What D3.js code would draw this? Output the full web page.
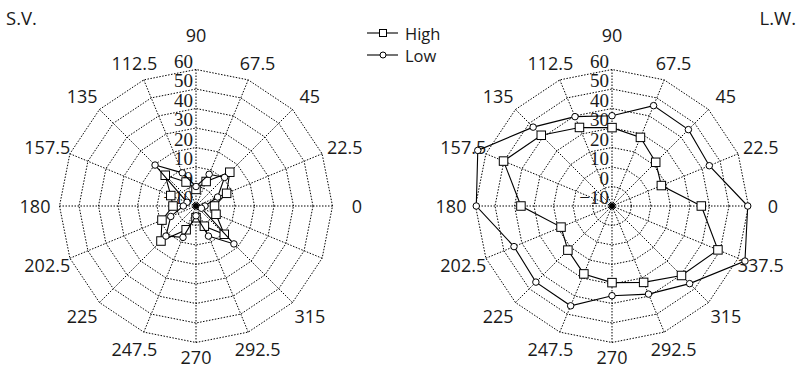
<!DOCTYPE html>
<html>
<head>
<meta charset="utf-8">
<script src="https://cdn.jsdelivr.net/npm/d3@7"></script>
<style>
  body { margin: 0; background: #fff; }
  svg { display: block; }
  .tick { font-family: "Liberation Serif", "DejaVu Serif", serif; }
  .sans { font-family: "Open Sans", "Liberation Sans", sans-serif; }
</style>
</head>
<body>
<svg id="chart" width="799" height="368"></svg>
<script>
// Wind-direction sectors (degrees, counter-clockwise from east)
const directions = [0, 22.5, 45, 67.5, 90, 112.5, 135, 157.5, 180, 202.5, 225, 247.5, 270, 292.5, 315, 337.5];
// Radial axis ticks
const radialTicks = [-10, 0, 10, 20, 30, 40, 50, 60];
const seriesNames = ["High", "Low"];

// S.V. panel
const svHigh = [-0.5, 7, 14.5, 3.6, -1.5, 3.3, 12.3, 4, 1.8, 8.9, 15.4, 3.2, -4, 1.2, 10.5, 1.1];
const svLow  = [-5.4, 2, 10.7, 7.6, 0, 8.4, 19.7, -5, -3.5, 4, 11.8, 7.4, -5, 6.7, 17.5, -7];

// L.W. panel
const lwHigh = [35.8, 17.4, 21.7, 28.1, 30.2, 33.6, 41.3, 50.2, 36.7, 18.3, 22, 27.7, 29.3, 32.4, 40.4, 48.8];
const lwLow  = [59.6, 44, 45.4, 45.7, 36.3, 39.6, 47.2, 64.5, 59.6, 44.4, 45.2, 45.4, 36, 38.9, 46.3, 63.8];

const svg = d3.select("#chart");
const rScale = d3.scaleLinear().domain([-10, 60]).range([0, 136.5]);

const polar = (deg, v) => {
  const a = deg * Math.PI / 180;
  const rr = rScale(v);
  return [rr * Math.cos(a), -rr * Math.sin(a)];
};

function drawMarker(sel, shape, size) {
  if (shape === "square") {
    sel.append("rect")
      .attr("x", -size / 2).attr("y", -size / 2)
      .attr("width", size).attr("height", size)
      .attr("fill", "#fff").attr("stroke", "#000").attr("stroke-width", 1);
  } else {
    sel.append("circle")
      .attr("r", size / 2)
      .attr("fill", "#fff").attr("stroke", "#000").attr("stroke-width", 1);
  }
}

function drawPanel(cx, cy, high, low, hiddenLabels) {
  const g = svg.append("g").attr("transform", `translate(${cx},${cy})`);
  const outer = radialTicks[radialTicks.length - 1];

  // dotted rings
  const ringLine = d3.line();
  radialTicks.filter(t => t > radialTicks[0]).forEach(t => {
    const pts = directions.map(d => polar(d, t));
    g.append("path")
      .attr("d", ringLine(pts) + "Z")
      .attr("fill", "none")
      .attr("stroke", "#000")
      .attr("stroke-width", 1)
      .attr("stroke-dasharray", "1.5,1.5");
  });

  // dotted spokes
  g.selectAll("line.spoke")
    .data(directions)
    .join("line")
    .attr("class", "spoke")
    .attr("x1", 0).attr("y1", 0)
    .attr("x2", d => polar(d, outer)[0])
    .attr("y2", d => polar(d, outer)[1])
    .attr("stroke", "#000")
    .attr("stroke-width", 1)
    .attr("stroke-dasharray", "1.5,1.5");

  g.append("circle").attr("r", 3).attr("fill", "#000");

  // radial tick labels along the 90° spoke
  g.selectAll("text.tick")
    .data(radialTicks)
    .join("text")
    .attr("class", "tick")
    .attr("x", -3)
    .attr("y", d => -rScale(d) - 2)
    .attr("text-anchor", "end")
    .attr("font-size", 19)
    .attr("fill", "#1a1a1a")
    .text(d => d < 0 ? "\u2212" + Math.abs(d) : d);

  // direction labels
  g.selectAll("text.dir")
    .data(directions.filter(d => !hiddenLabels.includes(d)))
    .join("text")
    .attr("class", "dir sans")
    .attr("x", d => 161 * Math.cos(d * Math.PI / 180))
    .attr("y", d => {
      const y = -155 * Math.sin(d * Math.PI / 180);
      if (d === 90) return y - 16;
      if (d === 270) return y - 4;
      return y;
    })
    .attr("text-anchor", "middle")
    .attr("dominant-baseline", "central")
    .attr("font-size", 18)
    .attr("fill", "#1a1a1a")
    .text(d => d);

  // series polygons with markers
  const line = d3.line().curve(d3.curveLinearClosed);
  [[high, "square", 8.5], [low, "circle", 6.5]].forEach(([vals, shape, size]) => {
    const pts = directions.map((d, i) => polar(d, vals[i]));
    g.append("path")
      .attr("d", line(pts))
      .attr("fill", "none")
      .attr("stroke", "#000")
      .attr("stroke-width", 1.1);
    pts.forEach(p => {
      const m = g.append("g").attr("transform", `translate(${p[0]},${p[1]})`);
      drawMarker(m, shape, size);
    });
  });
}

drawPanel(196, 206, svHigh, svLow, [337.5]);
drawPanel(612, 206, lwHigh, lwLow, []);

// panel titles
svg.append("text").attr("class", "sans").attr("x", 6).attr("y", 25)
  .attr("font-size", 18.5).attr("fill", "#1a1a1a")
  .text("S.V.");
svg.append("text").attr("class", "sans").attr("x", 796).attr("y", 25).attr("text-anchor", "end")
  .attr("font-size", 18.5).attr("fill", "#1a1a1a")
  .text("L.W.");

// legend
const legend = svg.append("g").attr("transform", "translate(367,33)");
seriesNames.forEach((name, i) => {
  const row = legend.append("g").attr("transform", `translate(0,${i * 22})`);
  row.append("line").attr("x1", 0).attr("x2", 31).attr("y1", 0).attr("y2", 0)
    .attr("stroke", "#000").attr("stroke-width", 1.1);
  const m = row.append("g").attr("transform", "translate(16,0)");
  drawMarker(m, i === 0 ? "square" : "circle", i === 0 ? 7 : 6);
  row.append("text").attr("class", "sans").attr("x", 38).attr("y", 0)
    .attr("dominant-baseline", "central")
    .attr("font-size", 16.5).attr("fill", "#1a1a1a")
    .text(name);
});
</script>
</body>
</html>
